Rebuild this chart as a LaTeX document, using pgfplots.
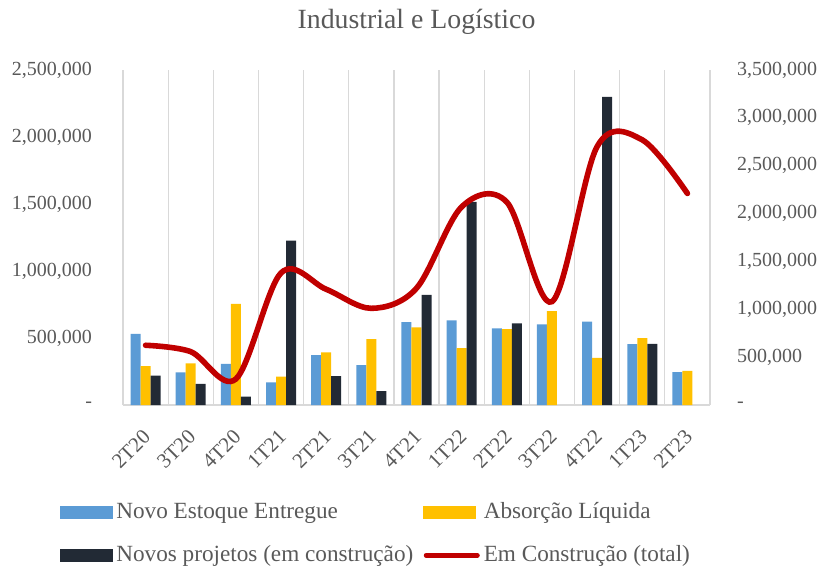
\documentclass[border=0pt]{standalone}
\usepackage{pgfplots}
\pgfplotsset{compat=1.18}
\usepackage{fontspec}
\setmainfont{Liberation Serif}
\definecolor{cblue}{HTML}{5B9BD5}
\definecolor{cyel}{HTML}{FFC000}
\definecolor{cdark}{HTML}{222A35}
\definecolor{cred}{HTML}{C00000}
\definecolor{ctext}{HTML}{595959}
\definecolor{cgrid}{HTML}{D9D9D9}
\begin{document}
\begin{tikzpicture}
\begin{axis}[
  name=a,
  width=293.5pt, height=167.5pt, scale only axis,
  xmin=-0.5, xmax=12.5, ymin=0, ymax=2500000,
  axis x line*=bottom, axis y line*=left,
  axis line style={draw=cgrid, line width=0.6pt},
  xtick={0,...,12},
  xticklabels={2T20,3T20,4T20,1T21,2T21,3T21,4T21,1T22,2T22,3T22,4T22,1T23,2T23},
  minor xtick={-0.5,0.5,...,12.5},
  minor x grid style={draw=cgrid, line width=0.6pt},
  xminorgrids=true,
  major tick length=0pt, minor tick length=0pt,
  ytick={0,500000,...,2500000},
  yticklabels={{-},{500,000},{1,000,000},{1,500,000},{2,000,000},{2,500,000}},
  scaled y ticks=false,
  yticklabel style={font=\fontsize{10}{12}\selectfont, text=ctext, xshift=-12pt},
  xticklabel style={font=\fontsize{10.5}{12}\selectfont, text=ctext, rotate=45, anchor=east, xshift=-6.1pt, yshift=-10.5pt},
  title={Industrial e Logístico},
  title style={at={(0.5,1)}, anchor=center, yshift=18pt, font=\fontsize{13.9}{16}\selectfont, text=ctext},
  legend columns=2,
  legend cell align=left,
  legend style={draw=none, fill=none, at={(rel axis cs:-0.119,-0.266)}, anchor=north west,
    font=\fontsize{11.6}{13}\selectfont, text=ctext, row sep=8pt,
    /tikz/every even column/.append style={column sep=3pt}},
]
\addplot[ybar, bar width=5pt, bar shift=-5pt, draw=none, fill=cblue, forget plot] coordinates {(0,530000) (1,244000) (2,306000) (3,169000) (4,373000) (5,298000) (6,619000) (7,632000) (8,572000) (9,602000) (10,622000) (11,455000) (12,246000)};
\addplot[ybar, bar width=5pt, bar shift=0pt, draw=none, fill=cyel, forget plot] coordinates {(0,290000) (1,311000) (2,754000) (3,211000) (4,393000) (5,492000) (6,580000) (7,425000) (8,567000) (9,701000) (10,351000) (11,500000) (12,254000)};
\addplot[ybar, bar width=5pt, bar shift=5pt, draw=none, fill=cdark, forget plot] coordinates {(0,220000) (1,157000) (2,62000) (3,1226000) (4,216000) (5,104000) (6,821000) (7,1515000) (8,610000) (10,2300000) (11,457000)};
\addlegendimage{legend image code/.code={\fill[cblue] (0pt,-3pt) rectangle (26pt,3pt);}}
\addlegendentry{Novo Estoque Entregue}
\addlegendimage{legend image code/.code={\fill[cyel] (0pt,-3pt) rectangle (26pt,3pt);}}
\addlegendentry{Absorção Líquida}
\addlegendimage{legend image code/.code={\fill[cdark] (0pt,-3pt) rectangle (26pt,3pt);}}
\addlegendentry{Novos projetos (em construção)}
\addlegendimage{legend image code/.code={\draw[cred, line width=2.5pt, line cap=round] (1.25pt,0pt) -- (26.75pt,0pt);}}
\addlegendentry{Em Construção (total)}
\end{axis}
\begin{axis}[
  width=293.5pt, height=167.5pt, scale only axis,
  xmin=-0.5, xmax=12.5, ymin=0, ymax=3500000,
  axis x line=none, axis y line*=right,
  axis line style={draw=cgrid, line width=0.6pt},
  major tick length=0pt,
  ytick={0,500000,...,3500000},
  yticklabels={{-},{500,000},{1,000,000},{1,500,000},{2,000,000},{2,500,000},{3,000,000},{3,500,000}},
  scaled y ticks=false,
  yticklabel style={font=\fontsize{10}{12}\selectfont, text=ctext, xshift=10pt},
]
\addplot[cred, line width=2.8pt, line cap=round, smooth, tension=0.55] coordinates {(0,624000) (1,557000) (2,272000) (3,1380000) (4,1209000) (5,1010000) (6,1220000) (7,2070000) (8,2120000) (9,1080000) (10,2700000) (11,2770000) (12,2210000)};
\end{axis}
\pgfresetboundingbox
\path[use as bounding box] ([xshift=-61.5pt,yshift=-81.5pt]a.south west) rectangle ([xshift=351pt,yshift=202.5pt]a.south west);
\end{tikzpicture}
\end{document}
